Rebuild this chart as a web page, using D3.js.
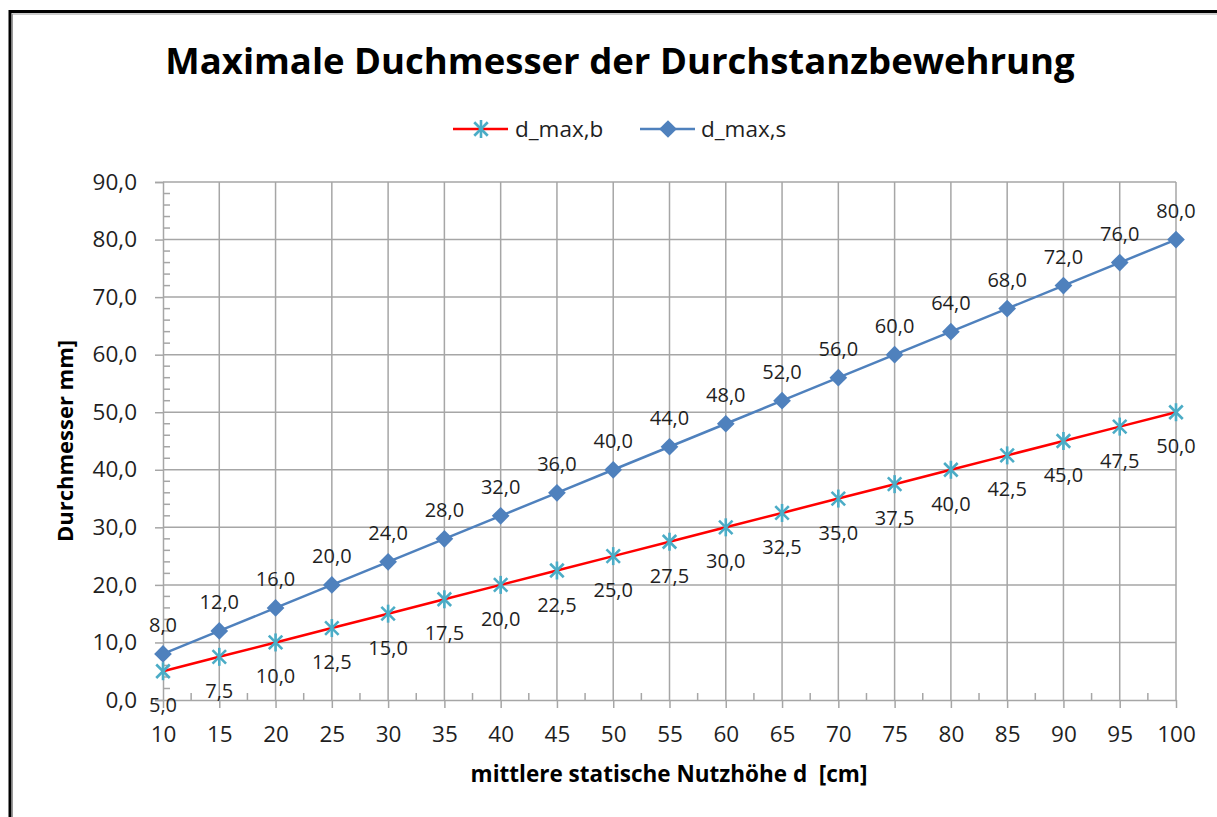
<!DOCTYPE html>
<html>
<head>
<meta charset="utf-8">
<script src="https://cdn.jsdelivr.net/npm/d3@7"></script>
<style>
  body { margin: 0; background: #fff; }
  svg { display: block; }
  text { font-family: "Open Sans", "DejaVu Sans", sans-serif; }
</style>
</head>
<body>
<div id="chart"></div>
<script>
// data
const nutzhoehe = [10, 15, 20, 25, 30, 35, 40, 45, 50, 55, 60, 65, 70, 75, 80, 85, 90, 95, 100];
const dMaxB = [5.0, 7.5, 10.0, 12.5, 15.0, 17.5, 20.0, 22.5, 25.0, 27.5, 30.0, 32.5, 35.0, 37.5, 40.0, 42.5, 45.0, 47.5, 50.0];
const dMaxS = [8.0, 12.0, 16.0, 20.0, 24.0, 28.0, 32.0, 36.0, 40.0, 44.0, 48.0, 52.0, 56.0, 60.0, 64.0, 68.0, 72.0, 76.0, 80.0];
const yTicks = [0, 10, 20, 30, 40, 50, 60, 70, 80, 90];
const seriesNames = ["d_max,b", "d_max,s"];

const W = 1217, H = 817;
const gridColor = "#a6a6a6";
const redLine = "#ff0000", starColor = "#4bacc6", blue = "#4f81bd";
const textColor = "#1f1f1f";

const de = d3.formatLocale({decimal: ",", thousands: ".", grouping: [3], currency: ["", "€"]});
const fmt = de.format(".1f");

const svg = d3.select("#chart").append("svg")
  .attr("width", W).attr("height", H);

// outer frame (cropped at right / bottom)
svg.append("rect").attr("x", 10).attr("y", 11.5).attr("width", W + 20).attr("height", H + 20)
  .attr("fill", "none").attr("stroke", "#000").attr("stroke-width", 3);
svg.append("rect").attr("x", 12.5).attr("y", 14).attr("width", W + 20).attr("height", H + 20)
  .attr("fill", "none").attr("stroke", "#999").attr("stroke-width", 1);

const x = d3.scalePoint().domain(nutzhoehe).range([163, 1176]);
const y = d3.scaleLinear().domain([0, 90]).range([700, 182]);

// title
svg.append("text")
  .attr("x", 620).attr("y", 74)
  .attr("text-anchor", "middle")
  .attr("font-size", 36.5).attr("font-weight", "bold").attr("fill", "#000")
  .text("Maximale Duchmesser der Durchstanzbewehrung");

// gridlines
svg.append("g").selectAll("line").data(yTicks.slice(1)).join("line")
  .attr("x1", x.range()[0]).attr("x2", x.range()[1])
  .attr("y1", d => y(d)).attr("y2", d => y(d))
  .attr("stroke", gridColor).attr("stroke-width", 1.5);
svg.append("g").selectAll("line").data(nutzhoehe.slice(1)).join("line")
  .attr("x1", d => x(d)).attr("x2", d => x(d))
  .attr("y1", y(0)).attr("y2", y(90))
  .attr("stroke", gridColor).attr("stroke-width", 1.5);

// y axis
const yAxis = svg.append("g").attr("transform", `translate(${x.range()[0]},0)`)
  .call(d3.axisLeft(y).tickValues(yTicks).tickSize(8).tickPadding(18).tickFormat(fmt));
yAxis.select(".domain").attr("stroke", gridColor).attr("stroke-width", 1.5);
yAxis.selectAll(".tick line").attr("stroke", gridColor).attr("stroke-width", 1.5);
yAxis.selectAll("text").attr("font-size", 22.5).attr("fill", textColor)
  .style("font-family", "'Open Sans', sans-serif");
// minor y ticks (inside)
const yMinor = d3.range(0, 90, 2).filter(v => v % 10 !== 0);
svg.append("g").selectAll("line").data(yMinor).join("line")
  .attr("x1", x.range()[0]).attr("x2", x.range()[0] + 7)
  .attr("y1", d => y(d)).attr("y2", d => y(d))
  .attr("stroke", gridColor).attr("stroke-width", 1.5);

// x axis
const xAxis = svg.append("g").attr("transform", `translate(0,${y(0)})`)
  .call(d3.axisBottom(x).tickSize(8).tickPadding(18).tickSizeOuter(0));
xAxis.select(".domain").attr("stroke", gridColor).attr("stroke-width", 1.5);
xAxis.selectAll(".tick line").attr("stroke", gridColor).attr("stroke-width", 1.5);
xAxis.selectAll("text").attr("font-size", 22.5).attr("fill", textColor)
  .style("font-family", "'Open Sans', sans-serif");
// minor x ticks between categories (inside)
const step = x.step();
svg.append("g").selectAll("line").data(nutzhoehe.slice(1)).join("line")
  .attr("x1", d => x(d) - step / 2).attr("x2", d => x(d) - step / 2)
  .attr("y1", y(0)).attr("y2", y(0) - 7)
  .attr("stroke", gridColor).attr("stroke-width", 1.5);

// axis titles
svg.append("text")
  .attr("x", 669).attr("y", 782)
  .attr("text-anchor", "middle").attr("font-size", 22.5).attr("font-weight", "bold")
  .attr("fill", "#000").style("white-space", "pre")
  .text("mittlere statische Nutzhöhe d  [cm]");
svg.append("text")
  .attr("transform", "translate(73,441) rotate(-90)")
  .attr("text-anchor", "middle").attr("font-size", 22).attr("font-weight", "bold")
  .attr("fill", "#000")
  .text("Durchmesser mm]");

// marker helpers
function star(sel, cx, cy) {
  const r = 9, q = r * 0.75;
  const g = sel.append("g").attr("transform", `translate(${cx},${cy})`)
    .attr("stroke", starColor).attr("stroke-width", 2.6);
  g.append("line").attr("x1", 0).attr("y1", -r).attr("x2", 0).attr("y2", r);
  g.append("line").attr("x1", -q).attr("y1", -q).attr("x2", q).attr("y2", q);
  g.append("line").attr("x1", -q).attr("y1", q).attr("x2", q).attr("y2", -q);
}
const diamond = d3.symbol().type(d3.symbolDiamond2).size(200);

const line = d3.line().x((d, i) => x(nutzhoehe[i])).y(d => y(d));

// series b
svg.append("path").datum(dMaxB).attr("d", line)
  .attr("fill", "none").attr("stroke", redLine).attr("stroke-width", 2.5);
const bMarks = svg.append("g");
dMaxB.forEach((v, i) => star(bMarks, x(nutzhoehe[i]), y(v)));

// series s
svg.append("path").datum(dMaxS).attr("d", line)
  .attr("fill", "none").attr("stroke", blue).attr("stroke-width", 2.5);
svg.append("g").selectAll("path").data(dMaxS).join("path")
  .attr("d", diamond)
  .attr("transform", (d, i) => `translate(${x(nutzhoehe[i])},${y(d)})`)
  .attr("fill", blue);

// data labels
svg.append("g").selectAll("text").data(dMaxS).join("text")
  .attr("x", (d, i) => x(nutzhoehe[i])).attr("y", d => y(d) - 22)
  .attr("text-anchor", "middle").attr("font-size", 20).attr("fill", textColor)
  .text(d => fmt(d));
svg.append("g").selectAll("text").data(dMaxB).join("text")
  .attr("x", (d, i) => x(nutzhoehe[i])).attr("y", d => y(d) + 41)
  .attr("text-anchor", "middle").attr("font-size", 20).attr("fill", textColor)
  .text(d => fmt(d));

// legend
const leg = svg.append("g");
leg.append("line").attr("x1", 453).attr("x2", 508).attr("y1", 129).attr("y2", 129)
  .attr("stroke", redLine).attr("stroke-width", 2.5);
star(leg, 481, 129);
leg.append("text").attr("x", 515).attr("y", 137).attr("font-size", 22.5).attr("fill", textColor)
  .text(seriesNames[0]);
leg.append("line").attr("x1", 640).attr("x2", 695).attr("y1", 129).attr("y2", 129)
  .attr("stroke", blue).attr("stroke-width", 2.5);
leg.append("path").attr("d", diamond).attr("transform", "translate(668,129)").attr("fill", blue);
leg.append("text").attr("x", 701).attr("y", 137).attr("font-size", 22.5).attr("fill", textColor)
  .text(seriesNames[1]);
</script>
</body>
</html>
